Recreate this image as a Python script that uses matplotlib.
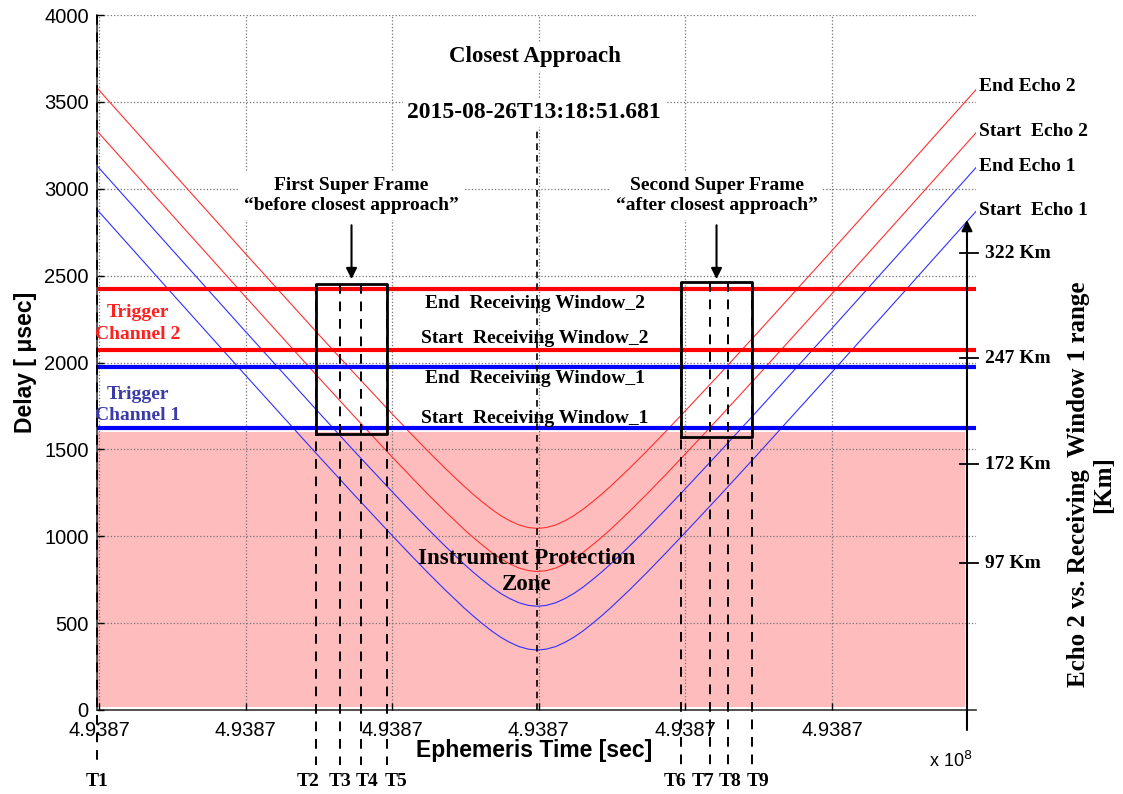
import numpy as np
import matplotlib
matplotlib.use('Agg')
import matplotlib.pyplot as plt

plt.rcParams['font.family'] = 'Liberation Sans'
SERIF = 'Liberation Serif'

# echo delays [usec] vs. time from closest approach [s]
t_ca = 493867198.0
dt = [-600, -500, -400, -300, -250, -200, -175, -150, -125, -100, -88, -75,
      -62, -50, -38, -25, -12, 0, 12, 25, 38, 50, 62, 75, 88, 100, 125, 150,
      175, 200, 250, 300, 400, 500, 600]
start_echo1 = [2877, 2405, 1935, 1469, 1239, 1013, 902, 793, 688, 588, 543, 497,
               454, 419, 390, 365, 350, 345, 350, 365, 390, 419, 454, 497, 543,
               588, 688, 793, 902, 1013, 1239, 1469, 1935, 2405, 2877]
end_echo1 = [3129, 2657, 2187, 1721, 1491, 1265, 1154, 1045, 940, 840, 795, 749,
             706, 671, 642, 617, 602, 597, 602, 617, 642, 671, 706, 749, 795,
             840, 940, 1045, 1154, 1265, 1491, 1721, 2187, 2657, 3129]
start_echo2 = [3329, 2857, 2387, 1921, 1691, 1465, 1354, 1245, 1140, 1040, 995, 949,
               906, 871, 842, 817, 802, 797, 802, 817, 842, 871, 906, 949, 995,
               1040, 1140, 1245, 1354, 1465, 1691, 1921, 2387, 2857, 3329]
end_echo2 = [3577, 3105, 2635, 2169, 1939, 1713, 1602, 1493, 1388, 1288, 1243, 1197,
             1154, 1119, 1090, 1065, 1050, 1045, 1050, 1065, 1090, 1119, 1154, 1197, 1243,
             1288, 1388, 1493, 1602, 1713, 1939, 2169, 2635, 3105, 3577]

# receiving windows [usec]
rw1_start, rw1_end = 1625, 1975
rw2_start, rw2_end = 2072, 2425
protect_bottom, protect_top = 20, 1600

# event times (ET sec) and where their names go
t_marks = [493866597, 493866896, 493866929, 493866957, 493866993,
           493867394, 493867434, 493867458, 493867491]
t_name_x = [493866597, 493866885, 493866929, 493866966, 493867005,
            493867386, 493867424, 493867461, 493867499]
t_names = ['T1', 'T2', 'T3', 'T4', 'T5', 'T6', 'T7', 'T8', 'T9']

# super frames: t0, t1, delay bottom, delay top
frame1 = (493866896, 493866993, 1588, 2452)
frame2 = (493867394, 493867491, 1571, 2463)

# km scale on the right
km_pos = [2630, 2025, 1415, 845]
km_labels = ['322 Km', '247 Km', '172 Km', '97 Km']

x_ticks = [493866600, 493866800, 493867000, 493867200, 493867400, 493867600]
y_ticks = [0, 500, 1000, 1500, 2000, 2500, 3000, 3500, 4000]

x_lo, x_hi = 493866597.3, 493867796.5
x_zone_end = 493867781.5
x_scale = 493867784.2
x_right_txt = 493867800.6

fig = plt.figure(figsize=(11.23, 7.94), dpi=100)
ax = fig.add_axes([0.0864, 0.1058, 0.7827, 0.8753])
ax.set_xlim(x_lo, x_hi)
ax.set_ylim(0, 4000)

et = t_ca + np.array(dt, dtype=float)

# protection zone
ax.fill_between([x_lo, x_zone_end], protect_bottom, protect_top,
                color='#ffbcbc', lw=0, zorder=0.5)

ax.grid(True, linestyle=':', color='0.45', lw=0.9)
ax.set_axisbelow(False)

# echoes
ax.plot(et, end_echo2, color='#ff3030', lw=0.8, zorder=2.6)
ax.plot(et, start_echo2, color='#ff3030', lw=0.8, zorder=2.6)
ax.plot(et, end_echo1, color='#3030ff', lw=0.8, zorder=2.6)
ax.plot(et, start_echo1, color='#3030ff', lw=0.8, zorder=2.6)

# receiving windows
for y, c in [(rw2_end, '#ff0000'), (rw2_start, '#ff0000'),
             (rw1_end, '#0000ff'), (rw1_start, '#0000ff')]:
    ax.plot([x_lo, x_hi], [y, y], color=c, lw=3, solid_capstyle='butt',
            zorder=3, clip_on=False)

# closest approach marker
ax.plot([t_ca, t_ca], [0, 3390], color='k', lw=1.2, ls=(0, (4, 3)), zorder=3.2)

# super frame boxes
for t0, t1, yb, yt in [frame1, frame2]:
    ax.plot([t0, t1, t1, t0, t0], [yb, yb, yt, yt, yb], color='k', lw=2,
            zorder=4)

# event time lines
for i, (t, tx, name) in enumerate(zip(t_marks, t_name_x, t_names)):
    if i == 0:
        top = 4000
    elif i < 5:
        top = frame1[3]
    else:
        top = frame2[3]
    ax.plot([t, t], [top, -317], color='k', lw=1.4, ls=(0, (5, 4)),
            zorder=3.5, clip_on=False)
    ax.text(tx, -410, name, ha='center', va='center', fontsize=14,
            fontweight='bold', family=SERIF)

# km scale
ax.annotate('', xy=(x_scale, 2820), xytext=(x_scale, -115),
            arrowprops=dict(arrowstyle='-|>', lw=1.5, color='k',
                            mutation_scale=16, shrinkA=0, shrinkB=0),
            annotation_clip=False, zorder=5)
for y, lab in zip(km_pos, km_labels):
    ax.plot([x_scale - 10, x_scale + 15], [y, y], color='k', lw=1.3,
            clip_on=False, zorder=5)
    ax.text(x_scale + 25, y, lab, ha='left', va='center', fontsize=14,
            fontweight='bold', family=SERIF)

# echo names
for y, lab in [(end_echo2[-1] + 14, 'End Echo 2'), (start_echo2[-1], 'Start  Echo 2'),
               (end_echo1[-1], 'End Echo 1'), (start_echo1[-1], 'Start  Echo 1')]:
    ax.text(x_right_txt, y, lab, ha='left', va='center', fontsize=14,
            fontweight='bold', family=SERIF)

white = dict(facecolor='white', edgecolor='none', pad=3)
ax.text(t_ca - 3, 3760, 'Closest Approach', ha='center', va='center',
        fontsize=16.5, fontweight='bold', family=SERIF, bbox=white, zorder=6)
ax.text(t_ca - 5, 3440, '2015-08-26T13:18:51.681', ha='center', va='center',
        fontsize=17, fontweight='bold', family=SERIF, bbox=white, zorder=6)

fc1 = (frame1[0] + frame1[1]) / 2
fc2 = (frame2[0] + frame2[1]) / 2
ax.text(fc1, 2960, 'First Super Frame\n\u201cbefore closest approach\u201d',
        ha='center', va='center', fontsize=14, fontweight='bold',
        family=SERIF, linespacing=1.25,
        bbox=dict(facecolor='white', edgecolor='none', pad=4), zorder=6)
ax.text(fc2, 2960, 'Second Super Frame\n\u201cafter closest approach\u201d',
        ha='center', va='center', fontsize=14, fontweight='bold',
        family=SERIF, linespacing=1.25,
        bbox=dict(facecolor='white', edgecolor='none', pad=4), zorder=6)
for fc in [fc1, fc2]:
    ax.annotate('', xy=(fc, 2480), xytext=(fc, 2790),
                arrowprops=dict(arrowstyle='-|>', lw=1.5, color='k',
                                mutation_scale=16, shrinkA=0, shrinkB=0),
                zorder=7)

# window names
x_mid = t_ca - 3
for y, lab in [(2340, 'End  Receiving Window_2'), (2140, 'Start  Receiving Window_2'),
               (1910, 'End  Receiving Window_1'), (1680, 'Start  Receiving Window_1')]:
    ax.text(x_mid, y, lab, ha='center', va='center', fontsize=14,
            fontweight='bold', family=SERIF, zorder=6)

ax.text(t_ca - 14, 795, 'Instrument Protection\nZone', ha='center',
        va='center', fontsize=16.5, fontweight='bold', family=SERIF,
        linespacing=1.3, zorder=6)

ax.text(493866653, 2225, 'Trigger\nChannel 2', ha='center', va='center',
        fontsize=14, fontweight='bold', family=SERIF, color='#ff2020',
        linespacing=1.35, zorder=6)
ax.text(493866653, 1755, 'Trigger\nChannel 1', ha='center', va='center',
        fontsize=14, fontweight='bold', family=SERIF, color='#3a3aa8',
        linespacing=1.35, zorder=6)

# axes
ax.set_xticks(x_ticks)
ax.set_xticklabels([f'{v / 1e8:.4f}' for v in x_ticks])
ax.set_yticks(y_ticks)
ax.set_yticklabels([str(v) for v in y_ticks])
ax.tick_params(direction='in', length=5, labelsize=14.5, width=1)
ax.tick_params(axis='x', pad=8)
ax.tick_params(axis='y', pad=6)
ax.spines['top'].set_visible(False)
ax.spines['right'].set_visible(False)
for s in ['left', 'bottom']:
    ax.spines[s].set_linewidth(1.2)
    ax.spines[s].set_color('0.2')

fig.text(0.023, 0.544, 'Delay [ \u03bcsec]', rotation=90, ha='center',
         va='center', fontsize=16.5, fontweight='bold')
fig.text(0.4755, 0.0554, 'Ephemeris Time [sec]', ha='center', va='center',
         fontsize=16.5, fontweight='bold')
fig.text(0.827, 0.041, 'x 10$^{8}$', ha='left', va='center', fontsize=13)
fig.text(0.9715, 0.39, 'Echo 2 vs. Receiving  Window 1 range\n[Km]',
         rotation=90, ha='center', va='center', fontsize=18,
         fontweight='bold', family=SERIF, multialignment='center',
         linespacing=1.1)

fig.savefig('out.png', dpi=100)
